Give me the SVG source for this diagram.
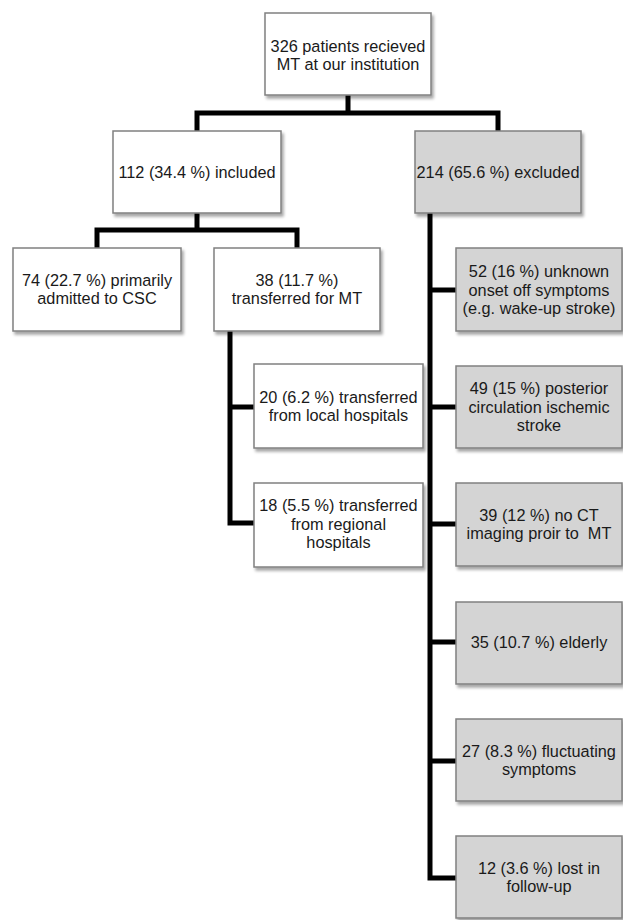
<svg xmlns="http://www.w3.org/2000/svg" width="623" height="920" viewBox="0 0 623 920">
<defs>
<filter id="sh" x="-10%" y="-10%" width="125%" height="130%">
<feDropShadow dx="2" dy="3" stdDeviation="1.8" flood-color="#000" flood-opacity="0.35"/>
</filter>
<style>
.b{fill:#fff;stroke:#808080;stroke-width:1.5;filter:url(#sh)}
.g{fill:#d4d4d4;stroke:#808080;stroke-width:1.5;filter:url(#sh)}
text{font-family:"Liberation Sans",Arial,sans-serif;font-size:16.3px;fill:#1a1a1a;text-anchor:middle;white-space:pre}
.c{fill:none;stroke:#000;stroke-width:5;stroke-linejoin:miter}
</style>
</defs>
<rect width="623" height="920" fill="#fff"/>
<g id="connectors">
<path class="c" d="M348 95V113M197 131V113H498V131"/>
<path class="c" d="M197 213V230M97 248V230H297V248"/>
<path class="c" d="M230 331V523H254M230 407H254"/>
<path class="c" d="M430 213V878H456M430 290H456M430 407H456M430 524H456M430 642H456M430 761H456"/>
</g>
<g id="n326"><rect class="b" x="265" y="13" width="166" height="82"/>
<text x="348" y="52">326 patients recieved</text><text x="348" y="70">MT at our institution</text></g>
<g id="n112"><rect class="b" x="113" y="131" width="168" height="82"/>
<text x="197" y="178">112 (34.4 %) included</text></g>
<g id="n214"><rect class="g" x="415" y="131" width="166" height="82"/>
<text x="498" y="178">214 (65.6 %) excluded</text></g>
<g id="n74"><rect class="b" x="13" y="248" width="168" height="83"/>
<text x="97" y="286">74 (22.7 %) primarily</text><text x="97" y="304">admitted to CSC</text></g>
<g id="n38"><rect class="b" x="214" y="248" width="166" height="83"/>
<text x="297" y="286">38 (11.7 %)</text><text x="297" y="304">transferred for MT</text></g>
<g id="n20"><rect class="b" x="254" y="364" width="169" height="84"/>
<text x="338.5" y="403">20 (6.2 %) transferred</text><text x="338.5" y="421">from local hospitals</text></g>
<g id="n18"><rect class="b" x="254" y="483" width="169" height="84"/>
<text x="338.5" y="511">18 (5.5 %) transferred</text><text x="338.5" y="529.5">from regional</text><text x="338.5" y="548">hospitals</text></g>
<g id="n52"><rect class="g" x="456" y="248" width="166" height="83"/>
<text x="539" y="277">52 (16 %) unknown</text><text x="539" y="295.5">onset off symptoms</text><text x="539" y="314">(e.g. wake-up stroke)</text></g>
<g id="n49"><rect class="g" x="456" y="366" width="166" height="82"/>
<text x="539" y="394">49 (15 %) posterior</text><text x="539" y="412.5">circulation ischemic</text><text x="539" y="431">stroke</text></g>
<g id="n39"><rect class="g" x="456" y="483" width="166" height="83"/>
<text x="539" y="521">39 (12 %) no CT</text><text x="539" y="539" xml:space="preserve">imaging proir to  MT</text></g>
<g id="n35"><rect class="g" x="456" y="602" width="166" height="82"/>
<text x="539" y="648">35 (10.7 %) elderly</text></g>
<g id="n27"><rect class="g" x="456" y="719" width="166" height="82"/>
<text x="539" y="757">27 (8.3 %) fluctuating</text><text x="539" y="775">symptoms</text></g>
<g id="n12"><rect class="g" x="456" y="836" width="166" height="82"/>
<text x="539" y="874">12 (3.6 %) lost in</text><text x="539" y="892">follow-up</text></g>
</svg>
